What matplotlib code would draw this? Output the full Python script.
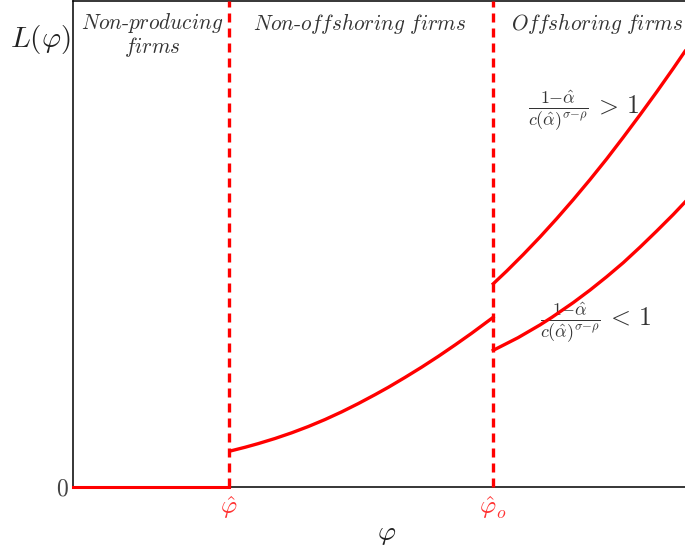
import matplotlib
matplotlib.use("Agg")
import matplotlib.pyplot as plt

plt.rcParams["mathtext.fontset"] = "cm"
plt.rcParams["font.family"] = "serif"
plt.rcParams["font.serif"] = ["cmr10", "DejaVu Serif"]
plt.rcParams["axes.formatter.use_mathtext"] = True

# Productivity cutoffs and axis extent
phi_hat = 1.56
phi_hat_o = 4.20
x_max = 6.28
y_max = 4.87

# Labour demand of non-offshoring firms
x_nonoff = [1.57, 1.72, 1.853, 2.02, 2.187, 2.353, 2.52, 2.687, 2.853,
            3.02, 3.153, 3.32, 3.487, 3.653, 3.82, 3.987, 4.20]
y_nonoff = [0.36, 0.398, 0.435, 0.486, 0.543, 0.606, 0.676, 0.753, 0.836,
            0.925, 0.999, 1.098, 1.201, 1.309, 1.423, 1.541, 1.699]

# Labour demand of offshoring firms, two parameter cases
x_off_high = [4.203, 4.337, 4.503, 4.67, 4.837, 5.003, 5.17, 5.337, 5.503,
              5.67, 5.837, 6.003, 6.12]
y_off_high = [2.037, 2.164, 2.330, 2.505, 2.689, 2.880, 3.080, 3.288, 3.505,
              3.729, 3.959, 4.195, 4.366]
x_off_low = [4.203, 4.45, 4.67, 4.79, 5.003, 5.17, 5.337, 5.503, 5.67,
             5.837, 6.003, 6.12]
y_off_low = [1.37, 1.496, 1.624, 1.701, 1.848, 1.973, 2.107, 2.248, 2.403,
             2.565, 2.731, 2.855]

region_labels = [
    r"$\mathit{Non\text{-}producing}$" + "\n" + r"$\mathit{firms}$",
    r"$\mathit{Non\text{-}offshoring\ firms}$",
    r"$\mathit{Offshoring\ firms}$",
]
region_x = [0.79, 2.87, 5.24]

label_high = r"$\frac{1{-}\hat{\alpha}}{c(\hat{\alpha})^{\sigma{-}\rho}}\,>\,1$"
label_low = r"$\frac{1{-}\hat{\alpha}}{c(\hat{\alpha})^{\sigma{-}\rho}}\,<\,1$"

fig = plt.figure(figsize=(6.85, 5.5), dpi=100)
ax = fig.add_axes([73 / 685, 63 / 550, 628 / 685, 486 / 550])
ax.set_xlim(0, x_max)
ax.set_ylim(0, y_max)

red = "#ff0000"
for xc in (phi_hat, phi_hat_o):
    ax.plot([xc, xc], [0, y_max], color=red, lw=2.4,
            linestyle=(0, (2.7, 1.8)), zorder=3, clip_on=False)

ax.plot([0, phi_hat], [0, 0], color=red, lw=2.2, zorder=4, clip_on=False)
ax.plot(x_nonoff, y_nonoff, color=red, lw=2.4, zorder=4)
ax.plot(x_off_high, y_off_high, color=red, lw=2.4, zorder=4)
ax.plot(x_off_low, y_off_low, color=red, lw=2.4, zorder=4)

for s in ("left", "bottom", "top", "right"):
    ax.spines[s].set_linewidth(1.1)

ax.set_xticks([phi_hat, phi_hat_o])
ax.set_xticklabels([r"$\hat{\varphi}$", r"$\hat{\varphi}_o$"], color="#ff3333",
                   fontsize=18)
ax.set_yticks([0])
ax.set_yticklabels(["0"], color="#444444", fontsize=17)
ax.tick_params(axis="x", length=0, pad=5)
ax.tick_params(axis="y", length=0, pad=4)

ax.set_xlabel(r"$\varphi$", fontsize=20, color="#222222", labelpad=0)
fig.text(40 / 685, 1 - 40 / 550, r"$L(\varphi)$", fontsize=21, color="#222222",
         ha="center", va="center")

for lab, xr in zip(region_labels, region_x):
    ax.text(xr, 4.77, lab, ha="center", va="top", fontsize=15.3,
            color="#333333", linespacing=1.0)

ax.text(5.11, 3.77, label_high, ha="center", va="center", fontsize=18.5,
        color="#333333")
ax.text(5.23, 1.65, label_low, ha="center", va="center", fontsize=18.5,
        color="#333333")

fig.savefig("out.png", dpi=100)
